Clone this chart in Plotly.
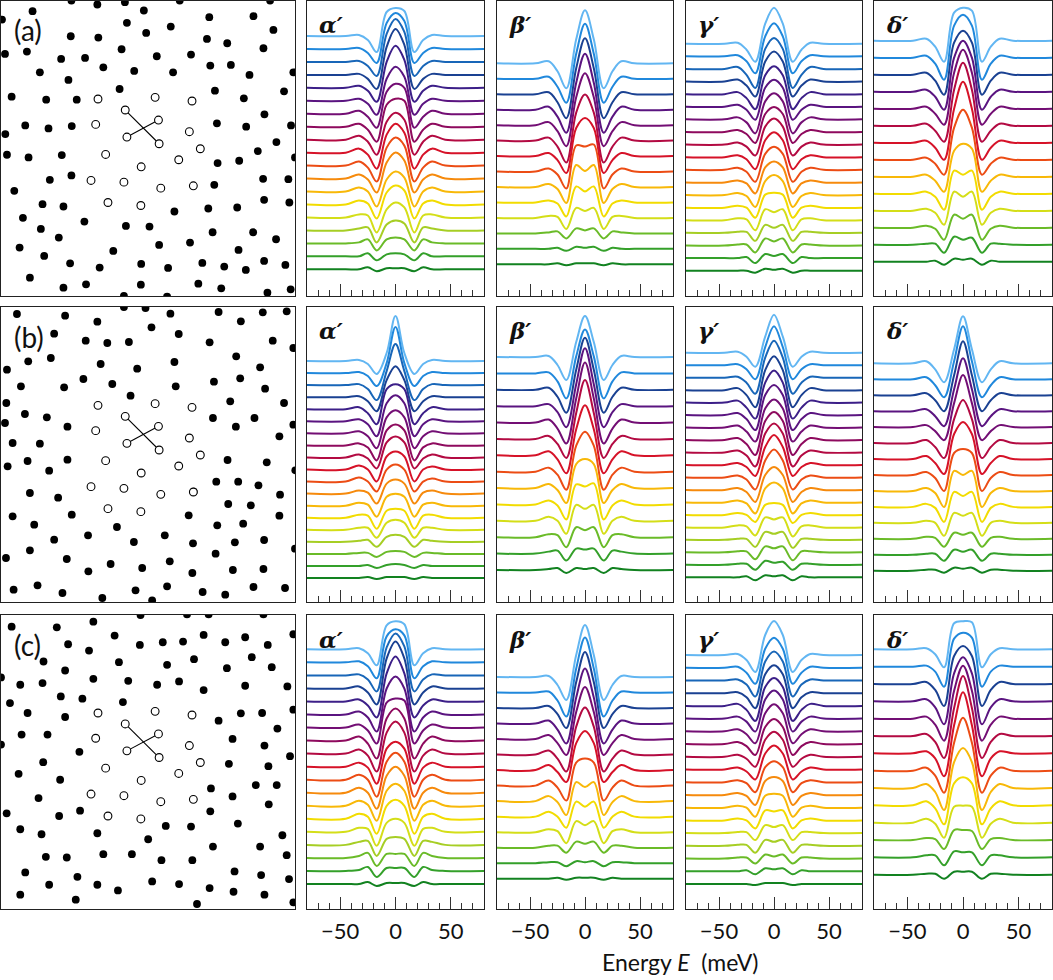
import plotly.graph_objects as go

# ---------------- data ----------------
ENERGY = [-80, -45, -33, -25, -17, -8, 0, 8, 17, 25, 33, 45, 80]

# spectra (top curve first), intensity in arbitrary units
a_alpha = [
    [0,0,1,-4,-16,24,28,25,-16,-4,1,0,0],
    [0,0,1,-4,-14,26,36,28,-14,-4,1,0,0],
    [0,0,1,-4,-14,28,43,30,-14,-4,1,0,0],
    [0,0,1,-4,-14,28,46,30,-14,-4,1,0,0],
    [0,0,2,-3,-14,26,42,28,-14,-3,2,0,0],
    [0,0,2,-3,-14,22,34,24,-14,-3,2,0,0],
    [0,0,3,-3,-14,22,30,26,-14,-3,3,0,0],
    [0,0,3,-3,-15,22,28,26,-15,-3,3,0,0],
    [0,0,4,-2,-15,18,27,20,-15,-2,4,0,0],
    [0,0,4,-2,-16,18,29,20,-16,-2,4,0,0],
    [0,0,4,-2,-16,18,28,20,-16,-2,4,0,0],
    [0,0,4,-1,-14,16,26,18,-14,-1,4,0,0],
    [0,0,4,0,-15,12,20,14,-15,0,4,0,0],
    [0,0,4,1,-14,12,19,14,-14,1,4,0,0],
    [0,0,3,2,-15,8,15,10,-15,2,3,0,0],
    [0,0,2,3,-12,6,10,7,-12,3,2,0,0],
    [0,0,1,4,-7,4,6,4,-7,4,1,0,0],
    [0,0,0,3,-4,2,3,2,-4,3,0,0,0],
    [0,0,0,2,-2,1,1,1,-2,2,0,0,0],
]
a_beta = [
    [0,0,2,-8,-25,24,53,24,-25,-8,2,0,0],
    [0,0,2,-8,-24,25,55,25,-24,-8,2,0,0],
    [0,0,2,-8,-24,26,56,26,-24,-8,2,0,0],
    [0,0,3,-7,-23,27,56,27,-23,-7,3,0,0],
    [0,0,3,-6,-21,28,52,28,-21,-6,3,0,0],
    [0,0,3,-6,-22,28,46,28,-22,-6,3,0,0],
    [0,0,3,-4,-17,28,38,28,-17,-4,3,0,0],
    [0,0,3,-3,-17,26,25,27,-17,-3,3,0,0],
    [0,0,3,-2,-16,22,16,22,-16,-2,3,0,0],
    [0,0,2,-1,-14,16,11,16,-14,-1,2,0,0],
    [0,0,2,1,-11,10,7,10,-11,1,2,0,0],
    [0,0,1,2,-5,5,3,5,-5,2,1,0,0],
    [0,0,0,1,-2,2,1,2,-2,1,0,0,0],
    [0,0,0,1,-1,1,1,1,-1,1,0,0,0],
]
a_gamma = [
    [0,0,1,-6,-18,20,36,20,-18,-6,1,0,0],
    [0,0,1,-5,-17,20,33,20,-17,-5,1,0,0],
    [0,0,2,-6,-19,20,31,20,-19,-6,2,0,0],
    [0,0,2,-4,-15,20,30,20,-15,-4,2,0,0],
    [0,0,2,-4,-15,19,28,19,-15,-4,2,0,0],
    [0,0,2,-3,-13,19,27,19,-13,-3,2,0,0],
    [0,0,2,-3,-14,18,26,18,-14,-3,2,0,0],
    [0,0,2,-2,-11,18,25,18,-11,-2,2,0,0],
    [0,0,2,-2,-11,18,26,18,-11,-2,2,0,0],
    [0,0,2,-2,-12,17,25,17,-12,-2,2,0,0],
    [0,0,2,-2,-12,16,23,16,-12,-2,2,0,0],
    [0,0,2,-1,-11,15,21,15,-11,-1,2,0,0],
    [0,0,2,-1,-12,14,20,14,-12,-1,2,0,0],
    [0,0,2,0,-10,13,15,13,-10,0,2,0,0],
    [0,0,2,1,-10,11,8,11,-10,1,2,0,0],
    [0,0,1,1,-8,8,5,8,-8,1,1,0,0],
    [0,0,1,1,-7,7,4,7,-7,1,1,0,0],
    [0,0,0,1,-5,4,2,4,-5,1,0,0,0],
    [0,0,0,0,-2,2,1,2,-2,0,0,0,0],
]
a_delta = [
    [0,0,2,-6,-21,28,33,30,-21,-6,2,0,0],
    [0,0,2,-6,-22,32,43,32,-22,-6,2,0,0],
    [0,0,2,-6,-20,32,44,32,-20,-6,2,0,0],
    [0,0,2,-5,-18,34,51,34,-18,-5,2,0,0],
    [0,0,2,-5,-16,36,59,36,-16,-5,2,0,0],
    [0,0,2,-5,-16,36,63,36,-16,-5,2,0,0],
    [0,0,2,-5,-17,34,61,34,-17,-5,2,0,0],
    [0,0,2,-4,-15,32,50,32,-15,-4,2,0,0],
    [0,0,2,-4,-15,26,33,28,-15,-4,2,0,0],
    [0,0,2,-3,-16,23,19,23,-16,-3,2,0,0],
    [0,0,2,-2,-14,19,14,19,-14,-2,2,0,0],
    [0,0,2,-1,-12,13,9,13,-12,-1,2,0,0],
    [0,0,1,1,-8,8,5,7,-8,1,1,0,0],
    [0,0,0,1,-3,3,2,3,-3,1,0,0,0],
]
b_alpha = [
    [0,0,1,-3,-13,8,45,8,-13,-3,1,0,0],
    [0,0,1,-3,-13,10,46,10,-13,-3,1,0,0],
    [0,0,1,-4,-15,14,41,14,-15,-4,1,0,0],
    [0,0,1,-4,-14,17,31,17,-14,-4,1,0,0],
    [0,0,2,-4,-15,20,25,20,-15,-4,2,0,0],
    [0,0,2,-3,-15,18,26,18,-15,-3,2,0,0],
    [0,0,2,-3,-15,16,23,16,-15,-3,2,0,0],
    [0,0,2,-2,-15,15,21,15,-15,-2,2,0,0],
    [0,0,3,-1,-11,15,21,15,-11,-1,3,0,0],
    [0,0,4,0,-12,13,18,13,-12,0,3,0,0],
    [0,0,4,0,-10,12,17,12,-10,0,3,0,0],
    [0,0,3,1,-10,10,14,10,-10,1,3,0,0],
    [0,0,3,1,-11,9,12,9,-11,1,3,0,0],
    [0,0,3,2,-11,7,9,7,-11,2,3,0,0],
    [0,0,2,2,-8,7,10,7,-8,2,2,0,0],
    [0,0,1,2,-5,5,7,5,-5,2,1,0,0],
    [0,0,1,1,-3,2,3,2,-3,1,1,0,0],
    [0,0,0,1,-2,1,2,1,-2,1,0,0,0],
    [0,0,0,1,-1,1,1,1,-1,1,0,0,0],
]
b_beta = [
    [0,0,1,-8,-23,15,41,15,-23,-8,1,0,0],
    [0,0,1,-8,-25,17,44,17,-25,-8,1,0,0],
    [0,0,2,-7,-23,20,52,20,-23,-7,2,0,0],
    [0,0,2,-6,-21,22,58,22,-21,-6,2,0,0],
    [0,0,3,-6,-21,24,60,24,-21,-6,3,0,0],
    [0,0,3,-5,-19,26,59,26,-19,-5,3,0,0],
    [0,0,4,-4,-18,26,50,26,-18,-4,4,0,0],
    [0,0,4,-3,-18,26,40,26,-18,-3,4,0,0],
    [0,0,4,-2,-15,24,29,24,-15,-2,4,0,0],
    [0,0,4,-1,-15,20,18,21,-15,-1,4,0,0],
    [0,0,4,0,-13,16,12,16,-13,0,4,0,0],
    [0,0,3,2,-10,10,7,10,-10,2,3,0,0],
    [0,0,2,3,-7,5,4,5,-7,3,2,0,0],
    [0,0,1,2,-3,2,1,2,-3,2,1,0,0],
]
b_gamma = [
    [0,0,1,-4,-14,16,38,16,-14,-4,1,0,0],
    [0,0,1,-4,-14,18,39,18,-14,-4,1,0,0],
    [0,0,1,-5,-16,20,37,20,-16,-5,1,0,0],
    [0,0,2,-5,-17,20,34,20,-17,-5,2,0,0],
    [0,0,2,-5,-16,20,32,20,-16,-5,2,0,0],
    [0,0,2,-4,-15,20,30,20,-15,-4,2,0,0],
    [0,0,2,-4,-14,19,28,19,-14,-4,2,0,0],
    [0,0,2,-4,-15,19,28,19,-15,-4,2,0,0],
    [0,0,2,-3,-14,19,29,19,-14,-3,2,0,0],
    [0,0,2,-2,-11,18,30,18,-11,-2,2,0,0],
    [0,0,2,-2,-12,17,28,17,-12,-2,2,0,0],
    [0,0,2,-2,-12,15,23,15,-12,-2,2,0,0],
    [0,0,2,-1,-11,14,20,14,-11,-1,2,0,0],
    [0,0,2,0,-7,10,12,10,-8,0,2,0,0],
    [0,0,2,1,-8,10,8,10,-9,1,2,0,0],
    [0,0,1,1,-7,8,6,8,-8,1,1,0,0],
    [0,0,1,1,-7,6,4,6,-8,1,1,0,0],
    [0,0,1,1,-5,4,2,3,-5,1,1,0,0],
    [0,0,0,1,-3,2,1,2,-3,1,0,0,0],
]
b_delta = [
    [0,0,2,-6,-19,14,47,14,-19,-6,2,0,0],
    [0,0,2,-6,-18,18,53,18,-18,-6,2,0,0],
    [0,0,2,-5,-16,20,54,20,-16,-5,2,0,0],
    [0,0,2,-5,-15,22,53,22,-15,-5,2,0,0],
    [0,0,2,-4,-13,24,52,24,-13,-4,2,0,0],
    [0,0,3,-4,-15,24,43,24,-15,-4,3,0,0],
    [0,0,3,-4,-15,25,37,25,-15,-4,3,0,0],
    [0,0,3,-3,-16,22,26,22,-16,-3,3,0,0],
    [0,0,3,-2,-16,20,16,20,-16,-2,3,0,0],
    [0,0,3,-1,-15,15,11,15,-15,-1,3,0,0],
    [0,0,2,0,-13,10,7,10,-13,0,2,0,0],
    [0,0,2,1,-8,6,4,6,-8,1,2,0,0],
    [0,0,1,1,-6,5,3,5,-6,1,1,0,0],
    [0,0,1,1,-2,3,2,3,-2,1,1,0,0],
]
c_alpha = [
    [0,0,1,-4,-16,24,28,25,-16,-4,1,0,0],
    [0,0,1,-4,-16,26,33,27,-16,-4,1,0,0],
    [0,0,1,-4,-16,28,42,29,-16,-4,1,0,0],
    [0,0,2,-4,-16,30,47,30,-16,-4,2,0,0],
    [0,0,2,-4,-16,28,45,28,-16,-4,2,0,0],
    [0,0,3,-3,-17,26,38,26,-17,-3,3,0,0],
    [0,0,3,-3,-16,25,29,27,-16,-3,3,0,0],
    [0,0,4,-3,-18,22,32,22,-18,-3,4,0,0],
    [0,0,4,-2,-18,21,32,21,-18,-2,4,0,0],
    [0,0,4,-1,-17,18,25,18,-17,-1,4,0,0],
    [0,0,5,0,-17,18,27,18,-17,0,5,0,0],
    [0,0,5,0,-16,17,26,17,-16,0,5,0,0],
    [0,0,5,1,-15,15,22,15,-15,1,5,0,0],
    [0,0,5,2,-15,13,19,13,-15,2,5,0,0],
    [0,0,4,3,-14,9,13,9,-14,3,4,0,0],
    [0,0,3,4,-11,6,8,6,-11,4,3,0,0],
    [0,0,2,5,-8,4,4,4,-8,5,2,0,0],
    [0,0,1,4,-6,3,3,3,-6,4,1,0,0],
    [0,0,0,2,-2,1,1,1,-2,2,0,0,0],
]
c_beta = [
    [0,0,1,-8,-23,22,52,22,-23,-8,1,0,0],
    [0,0,1,-8,-24,24,55,24,-24,-8,1,0,0],
    [0,0,2,-6,-20,26,56,26,-20,-6,2,0,0],
    [0,0,3,-6,-20,26,55,26,-20,-6,3,0,0],
    [0,0,4,-4,-16,27,52,27,-16,-4,4,0,0],
    [0,0,4,-4,-17,28,47,28,-17,-4,4,0,0],
    [0,0,5,-2,-12,27,39,27,-12,-2,5,0,0],
    [0,0,5,-2,-15,23,27,23,-15,-2,5,0,0],
    [0,0,5,-1,-14,19,14,19,-14,-1,5,0,0],
    [0,0,5,0,-11,15,10,15,-11,0,5,0,0],
    [0,0,3,1,-11,11,7,11,-11,1,3,0,0],
    [0,0,2,2,-5,6,4,6,-5,2,2,0,0],
    [0,0,1,1,-3,2,1,2,-3,1,1,0,0],
    [0,0,0,1,-1,1,1,1,-1,1,0,0,0],
]
c_gamma = [
    [0,0,1,-5,-17,20,34,20,-17,-5,1,0,0],
    [0,0,1,-5,-16,19,30,19,-16,-5,1,0,0],
    [0,0,1,-4,-16,19,29,19,-16,-4,1,0,0],
    [0,0,1,-4,-15,19,28,19,-15,-4,1,0,0],
    [0,0,2,-4,-15,19,28,19,-15,-4,2,0,0],
    [0,0,2,-3,-13,19,28,19,-13,-3,2,0,0],
    [0,0,2,-3,-12,18,27,18,-12,-3,2,0,0],
    [0,0,2,-2,-11,17,25,17,-11,-2,2,0,0],
    [0,0,2,-2,-10,17,25,17,-10,-2,2,0,0],
    [0,0,2,-2,-10,16,24,16,-10,-2,2,0,0],
    [0,0,2,-1,-10,15,21,15,-10,-1,2,0,0],
    [0,0,2,-1,-10,14,18,14,-10,-1,2,0,0],
    [0,0,2,0,-9,12,14,12,-9,0,2,0,0],
    [0,0,2,0,-8,10,9,10,-8,0,2,0,0],
    [0,0,1,1,-7,8,6,8,-7,1,1,0,0],
    [0,0,1,1,-7,6,4,6,-7,1,1,0,0],
    [0,0,1,1,-5,4,2,4,-5,1,1,0,0],
    [0,0,0,1,-3,3,2,3,-3,1,0,0,0],
    [0,0,0,0,-1,1,1,1,-1,0,0,0,0],
]
c_delta = [
    [0,0,1,-5,-18,26,28,27,-18,-5,1,0,0],
    [0,0,1,-5,-20,28,34,29,-20,-5,1,0,0],
    [0,0,2,-6,-22,28,38,28,-22,-6,2,0,0],
    [0,0,2,-6,-23,28,44,28,-23,-6,2,0,0],
    [0,0,2,-6,-22,28,53,28,-22,-6,2,0,0],
    [0,0,2,-6,-22,28,60,28,-22,-6,2,0,0],
    [0,0,2,-5,-23,28,61,28,-23,-5,2,0,0],
    [0,0,3,-5,-22,28,53,28,-22,-5,3,0,0],
    [0,0,4,-4,-22,26,40,26,-22,-4,4,0,0],
    [0,0,4,-3,-19,22,28,22,-19,-3,4,0,0],
    [0,0,4,-1,-15,16,17,16,-15,-1,4,0,0],
    [0,0,2,1,-9,10,10,9,-9,1,2,0,0],
    [0,0,2,2,-8,6,5,5,-8,2,2,0,0],
    [0,0,1,1,-4,3,3,3,-4,1,1,0,0],
]

SPECTRA = [
    [a_alpha, a_beta, a_gamma, a_delta],
    [b_alpha, b_beta, b_gamma, b_delta],
    [c_alpha, c_beta, c_gamma, c_delta],
]
GREEK = ["α\u2032", "β\u2032", "γ\u2032", "δ\u2032"]
ROW_LABELS = ["(a)", "(b)", "(c)"]
TICKS = [-50, 0, 50]
TICK_TEXT = ["\u221250", "0", "50"]
MINOR_TICKS = [-70, -60, -40, -30, -20, -10, 10, 20, 30, 40, 60, 70]

# lattice sites (site coordinates, panel is 885 x 885 units)
open_x = [292,464,575,374,474,285,379,476,567,600,315,535,422,271,370,481,579,322,421]
open_y = [295,290,301,328,358,371,409,429,393,444,461,477,498,539,544,562,555,605,614]
bond_x = [374, 476, None, 474, 379]
bond_y = [328, 429, None, 358, 409]

dots_a = [(212,0),(290,12),(373,5),(538,0),(810,0),(95,32),(430,30),(627,50),(760,47),(3,57),(379,67),
          (511,78),(820,88),(437,97),(210,107),(293,111),(620,115),(681,128),(12,160),(78,153),(363,146),
          (469,167),(572,162),(790,143),(181,175),(253,172),(630,195),(692,193),(308,200),(401,211),(518,215),
          (117,215),(748,223),(880,215),(203,238),(357,265),(644,270),(852,272),(32,288),(136,297),(228,297),
          (731,293),(793,341),(73,374),(143,383),(213,376),(650,368),(738,378),(873,374),(13,400),(829,424),
          (773,451),(18,462),(83,470),(183,463),(652,487),(717,480),(885,470),(147,537),(212,524),(642,552),
          (789,534),(865,535),(40,570),(125,610),(188,617),(624,623),(711,620),(792,597),(868,605),(522,632),
          (66,651),(120,684),(251,662),(376,675),(447,677),(174,710),(637,694),(759,694),(828,715),(56,740),
          (130,765),(338,750),(476,732),(569,725),(715,747),(208,787),(297,800),(422,789),(503,801),(606,786),
          (672,797),(737,807),(792,780),(856,792),(87,830),(188,860),(256,850),(421,851),(594,848),(663,862),
          (802,875),(872,865),(370,885),(500,887)]
dots_b = [(48,21),(193,26),(290,44),(370,0),(435,3),(510,20),(655,15),(722,43),(788,16),(860,13),(160,80),
          (255,101),(320,108),(385,105),(453,61),(535,81),(628,106),(818,101),(880,123),(82,163),(150,153),
          (18,188),(300,171),(410,185),(522,165),(708,148),(780,181),(248,216),(335,231),(526,238),(641,224),
          (720,214),(795,245),(60,238),(190,241),(390,266),(16,288),(690,283),(852,288),(72,321),(138,331),
          (200,359),(638,333),(763,333),(12,348),(707,359),(880,353),(35,408),(117,410),(838,388),(200,458),
          (80,462),(20,478),(145,491),(682,459),(800,466),(886,490),(648,524),(714,524),(775,535),(87,558),
          (172,572),(580,554),(840,563),(684,591),(752,595),(213,623),(35,628),(100,653),(565,625),(651,655),
          (729,650),(838,626),(349,660),(160,698),(262,685),(400,705),(493,685),(578,709),(704,706),(792,699),
          (87,730),(15,753),(198,756),(330,771),(425,783),(508,763),(646,740),(885,725),(263,793),(576,798),
          (698,789),(790,786),(38,848),(110,835),(185,858),(305,873),(405,850),(455,880),(500,838),(607,855),
          (675,863),(760,840),(855,843)]
dots_c = [(32,35),(168,37),(278,20),(420,0),(560,-2),(625,-2),(790,-2),(342,62),(202,88),(265,107),(418,90),
          (487,82),(548,80),(610,60),(675,82),(735,67),(803,90),(880,58),(128,140),(355,142),(500,150),
          (581,133),(680,160),(755,127),(815,157),(193,167),(58,210),(125,205),(278,192),(383,198),(470,210),
          (536,200),(610,226),(735,213),(862,215),(180,245),(245,252),(367,262),(27,265),(80,295),(193,307),
          (655,318),(722,296),(786,295),(880,285),(62,360),(140,360),(832,342),(697,373),(236,412),(793,393),
          (870,425),(127,443),(686,448),(805,455),(53,478),(178,496),(767,512),(830,512),(632,522),(113,551),
          (697,546),(806,570),(17,597),(238,589),(175,605),(630,591),(58,645),(122,660),(290,657),(496,635),
          (572,637),(713,628),(847,663),(443,675),(638,697),(780,697),(860,723),(135,728),(198,730),(308,720),
          (394,720),(483,738),(576,738),(73,775),(230,788),(455,802),(536,810),(628,822),(703,772),(783,783),
          (867,795),(145,812),(290,812),(352,829),(58,842),(225,857),(590,870),(700,833),(793,842),(880,865),
          (0,188),(0,390)]
DOTS = [dots_a, dots_b, dots_c]

# ---------------- style / layout ----------------
W, H = 1053, 980
COLS = [(1, 295), (307, 484), (497, 673), (686, 862), (874, 1052)]
ROWS = [(0.5, 296), (307, 602), (615, 909)]
# baseline of the bottom and top curve (px above panel bottom), per row/column
BASE = [
    [(26.7, 260.0), (31.7, 232.7), (25.3, 252.3), (34.3, 255.3)],
    [(24.0, 241.0), (32.0, 245.0), (24.7, 249.3), (31.3, 238.7)],
    [(25.0, 259.7), (30.3, 232.0), (25.0, 254.0), (34.3, 259.7)],
]
COLORS = ["#62b6f2", "#2088dc", "#1866b8", "#1a4192", "#3c1f88", "#5a1480", "#730e74", "#8e0a5e",
          "#b30a42", "#d61228", "#ec4c14", "#f68a0c", "#f8b808", "#f2dc00", "#d4de18", "#a6ce24",
          "#6abb28", "#34a02a", "#128220"]
SUB14 = [0, 1, 3, 5, 6, 8, 9, 10, 12, 13, 14, 16, 17, 18]
FONT = "Lato"
SITE = 885

fig = go.Figure()
layout = dict(width=W, height=H, margin=dict(l=0, r=0, t=0, b=0),
              paper_bgcolor="white", plot_bgcolor="white", showlegend=False)
annotations = []

def xdom(l, r):
    return [l / W, r / W]

def ydom(t, b):
    return [1 - b / H, 1 - t / H]

k = 0
for ri, (top, bot) in enumerate(ROWS):
    for ci, (left, right) in enumerate(COLS):
        k += 1
        xn = "x" if k == 1 else f"x{k}"
        yn = "y" if k == 1 else f"y{k}"
        xa = "xaxis" if k == 1 else f"xaxis{k}"
        ya = "yaxis" if k == 1 else f"yaxis{k}"
        frame = dict(showline=True, mirror=True, linecolor="#222", linewidth=1.3,
                     showgrid=False, zeroline=False)
        if ci == 0:
            layout[xa] = dict(domain=xdom(left, right), anchor=yn, range=[0, SITE],
                              showticklabels=False, ticks="", **frame)
            layout[ya] = dict(domain=ydom(top, bot), anchor=xn, range=[SITE, 0],
                              showticklabels=False, ticks="", **frame)
            dots = DOTS[ri]
            fig.add_trace(go.Scatter(x=[d[0] for d in dots], y=[d[1] for d in dots], mode="markers",
                                     marker=dict(size=7.8, color="black", line=dict(width=0)),
                                     xaxis=xn, yaxis=yn, hoverinfo="skip"))
            fig.add_trace(go.Scatter(x=bond_x, y=bond_y, mode="lines",
                                     line=dict(color="black", width=1.1),
                                     xaxis=xn, yaxis=yn, hoverinfo="skip"))
            fig.add_trace(go.Scatter(x=open_x, y=open_y, mode="markers",
                                     marker=dict(size=7.8, color="white",
                                                 line=dict(color="black", width=1.1)),
                                     xaxis=xn, yaxis=yn, hoverinfo="skip"))
            annotations.append(dict(text=ROW_LABELS[ri], x=(left + 11) / W, y=1 - (top + 30) / H,
                                    xref="paper", yref="paper", xanchor="left", yanchor="middle",
                                    showarrow=False, font=dict(family=FONT, size=28, color="#111")))
        else:
            ph = bot - top
            layout[xa] = dict(domain=xdom(left, right), anchor=yn, range=[-80, 80],
                              tickmode="array", tickvals=TICKS, ticktext=TICK_TEXT,
                              ticks="inside", ticklen=12, tickwidth=1, tickcolor="#333",
                              minor=dict(tickmode="array", tickvals=MINOR_TICKS,
                                         ticks="inside", ticklen=6, tickwidth=1, tickcolor="#333"),
                              showticklabels=(ri == 2), ticklabelstandoff=2,
                              tickfont=dict(family=FONT, size=22, color="#111"), **frame)
            layout[ya] = dict(domain=ydom(top, bot), anchor=xn, range=[0, ph],
                              showticklabels=False, ticks="", **frame)
            curves = SPECTRA[ri][ci - 1]
            n = len(curves)
            b0, b1 = BASE[ri][ci - 1]
            step = (b1 - b0) / (n - 1)
            for j, vals in enumerate(curves):
                base = b1 - j * step
                col = COLORS[j] if n == 19 else COLORS[SUB14[j]]
                fig.add_trace(go.Scatter(x=ENERGY, y=[base + v for v in vals], mode="lines",
                                         line=dict(color=col, width=2, shape="spline", smoothing=1.0),
                                         xaxis=xn, yaxis=yn, hoverinfo="skip"))
            annotations.append(dict(text="<b><i>" + GREEK[ci - 1] + "</i></b>",
                                    x=(left + 10) / W, y=1 - (top + 24) / H,
                                    xref="paper", yref="paper", xanchor="left", yanchor="middle",
                                    showarrow=False, font=dict(family="DejaVu Serif", size=23, color="#111")))

annotations.append(dict(text="Energy <i>E</i>  (meV)", x=680 / W, y=1 - 962 / H,
                        xref="paper", yref="paper", xanchor="center", yanchor="middle",
                        showarrow=False, font=dict(family=FONT, size=23, color="#111")))
layout["annotations"] = annotations
fig.update_layout(**layout)
fig.write_html("out.html")
